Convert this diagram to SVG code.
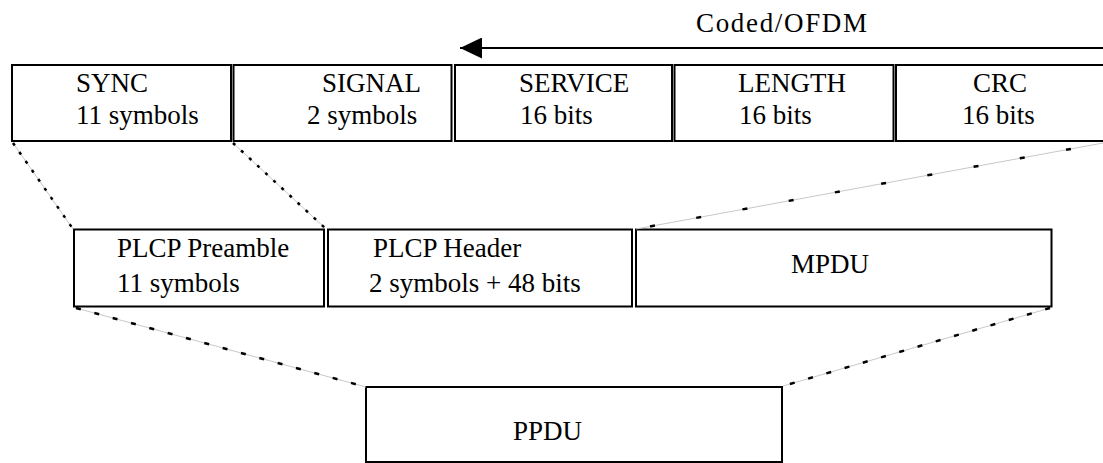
<svg xmlns="http://www.w3.org/2000/svg" xmlns:xlink="http://www.w3.org/1999/xlink" width="1103" height="463" viewBox="0 0 1103 463">
<style>
.box{fill:#fff;stroke:#000;stroke-width:2}
.t{font-family:"Liberation Serif","Times New Roman",serif;font-size:27px;fill:#000}
.base{stroke:#c8c8c8;stroke-width:1;fill:none}
.dot{stroke:#000;stroke-width:2.5;fill:none;stroke-dasharray:3 8}
.dash{stroke:#000;stroke-width:2.5;fill:none;stroke-dasharray:5 42}
.dot2{stroke:#000;stroke-width:2.5;fill:none;stroke-dasharray:5 14}
.arr{stroke:#000;stroke-width:2;fill:none}
</style>
<defs>
<marker id="ah" markerUnits="userSpaceOnUse" viewBox="0 0 22 21" markerWidth="22" markerHeight="21" refX="22" refY="10.5" orient="auto">
<path d="M0,0 L22,10.5 L0,21 Z" fill="#000"/>
</marker>
</defs>
<rect width="1103" height="463" fill="#fff"/>

<g id="coded-ofdm">
<line class="arr" x1="1103" y1="48" x2="460" y2="48" marker-end="url(#ah)"/>
<text class="t" x="696" y="32" font-size="26" textLength="171" lengthAdjust="spacing">Coded/OFDM</text>
</g>

<g id="sync">
<rect class="box" x="12" y="65" width="219" height="76"/>
<text class="t" x="76" y="92">SYNC</text>
<text class="t" x="76" y="124">11 symbols</text>
</g>
<g id="signal">
<rect class="box" x="233.5" y="65" width="218" height="76"/>
<text class="t" x="322" y="92">SIGNAL</text>
<text class="t" x="307" y="124">2 symbols</text>
</g>
<g id="service">
<rect class="box" x="455" y="65" width="217" height="76"/>
<text class="t" x="519" y="92">SERVICE</text>
<text class="t" x="520" y="124">16 bits</text>
</g>
<g id="length">
<rect class="box" x="674.5" y="65" width="219" height="76"/>
<text class="t" x="738" y="92">LENGTH</text>
<text class="t" x="739" y="124">16 bits</text>
</g>
<g id="crc">
<rect class="box" x="896" y="65" width="220" height="76"/>
<text class="t" x="973" y="92">CRC</text>
<text class="t" x="962" y="124">16 bits</text>
</g>

<g id="plcp-preamble">
<rect class="box" x="74" y="229.5" width="250" height="77"/>
<text class="t" x="117" y="257">PLCP Preamble</text>
<text class="t" x="117" y="292">11 symbols</text>
</g>
<g id="plcp-header">
<rect class="box" x="328" y="229.5" width="304" height="77"/>
<text class="t" x="373" y="257">PLCP Header</text>
<text class="t" x="369" y="292">2 symbols + 48 bits</text>
</g>
<g id="mpdu">
<rect class="box" x="636" y="229.5" width="415.5" height="77"/>
<text class="t" x="830" y="273" text-anchor="middle">MPDU</text>
</g>

<g id="ppdu">
<rect class="box" x="366" y="387" width="416" height="75"/>
<text class="t" x="547.5" y="440" text-anchor="middle">PPDU</text>
</g>

<g id="connectors">
<line class="base" x1="13" y1="143" x2="73" y2="229"/>
<line class="dot" x1="13" y1="143" x2="73" y2="229"/>
<line class="base" x1="233" y1="143" x2="325" y2="228"/>
<line class="dot" x1="233" y1="143" x2="325" y2="228"/>
<line class="base" x1="636" y1="229" x2="1103" y2="143"/>
<line class="dash" x1="650" y1="226.4" x2="1103" y2="143"/>
<line class="base" x1="76" y1="308" x2="366" y2="387"/>
<line class="dot2" x1="76" y1="308" x2="366" y2="387"/>
<line class="base" x1="1050" y1="308" x2="783" y2="386"/>
<line class="dot2" x1="1050" y1="308" x2="783" y2="386"/>
</g>
</svg>
